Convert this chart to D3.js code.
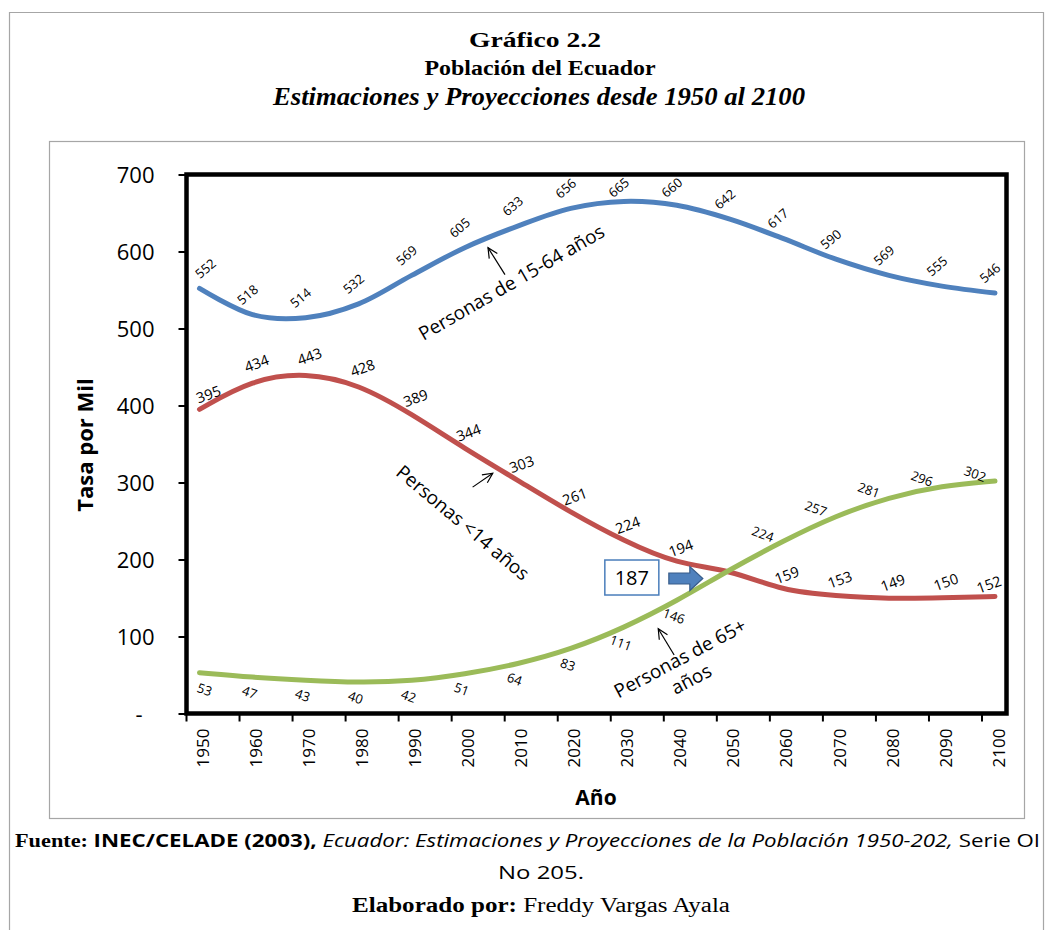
<!DOCTYPE html>
<html>
<head>
<meta charset="utf-8">
<script src="https://cdn.jsdelivr.net/npm/d3@7"></script>
<style>
  body { margin: 0; background: #fff; }
  svg { display: block; }
</style>
</head>
<body>
<div id="chart"></div>
<script>
// Data (tasa por mil)
const years = [1950, 1960, 1970, 1980, 1990, 2000, 2010, 2020, 2030, 2040, 2050, 2060, 2070, 2080, 2090, 2100];
const personas1564 = [552, 518, 514, 532, 569, 605, 633, 656, 665, 660, 642, 617, 590, 569, 555, 546];
const personasMenos14 = [395, 434, 443, 428, 389, 344, 303, 261, 224, 194, 187, 159, 153, 149, 150, 152];
const personas65 = [53, 47, 43, 40, 42, 51, 64, 83, 111, 146, 187, 224, 257, 281, 296, 302];
const yTicks = [0, 100, 200, 300, 400, 500, 600, 700];
const yTickLabels = ["-", "100", "200", "300", "400", "500", "600", "700"];
const crossYear = 2050;

const width = 1053;
const height = 930;
const sans = "'Open Sans', 'Noto Sans', sans-serif";
const serif = "'Liberation Serif', 'DejaVu Serif', serif";

const svg = d3.select("#chart")
  .append("svg")
  .attr("width", width)
  .attr("height", height);

// page frame and chart frame
svg.append("path")
  .attr("d", "M9.5,935 L9.5,12.5 L1043.5,12.5 L1043.5,935")
  .attr("fill", "none")
  .attr("stroke", "#a6a6a6")
  .attr("stroke-width", 1.2);

svg.append("rect")
  .attr("x", 49.5).attr("y", 141.5)
  .attr("width", 975).attr("height", 677)
  .attr("fill", "none")
  .attr("stroke", "#a6a6a6")
  .attr("stroke-width", 1.2);

// titles (the original is a bit stretched sideways, hence textLength)
svg.append("text")
  .attr("x", 535).attr("y", 47)
  .attr("text-anchor", "middle")
  .attr("textLength", 132).attr("lengthAdjust", "spacingAndGlyphs")
  .style("font-family", serif).style("font-weight", "bold").style("font-size", "22px")
  .text("Gráfico 2.2");

svg.append("text")
  .attr("x", 540).attr("y", 75)
  .attr("text-anchor", "middle")
  .attr("textLength", 231).attr("lengthAdjust", "spacingAndGlyphs")
  .style("font-family", serif).style("font-weight", "bold").style("font-size", "20px")
  .text("Población del Ecuador");

svg.append("text")
  .attr("x", 539).attr("y", 105)
  .attr("text-anchor", "middle")
  .attr("textLength", 532).attr("lengthAdjust", "spacingAndGlyphs")
  .style("font-family", serif).style("font-weight", "bold").style("font-style", "italic").style("font-size", "25px")
  .text("Estimaciones y Proyecciones desde 1950 al 2100");

// scales
const x = d3.scaleLinear().domain([1950, 2100]).range([199.5, 995]);
const y = d3.scaleLinear().domain([0, 700]).range([713.5, 174.5]);

const plotLeft = x(1950) - 13;
const plotRight = x(2100) + 11.5;

// y axis
const yAxis = svg.append("g")
  .attr("transform", `translate(${plotLeft}, 0)`)
  .call(d3.axisLeft(y).tickValues(yTicks).tickSize(8).tickPadding(24)
    .tickFormat((d, i) => yTickLabels[i]));
yAxis.select(".domain").remove();
yAxis.selectAll(".tick line").attr("stroke", "#000").attr("stroke-width", 2);
yAxis.selectAll(".tick text")
  .style("font-family", sans).style("font-size", "22px").attr("fill", "#000")
  .attr("dy", "0.36em");
yAxis.selectAll(".tick text").filter(d => d === 0).attr("dx", -12);

// x axis
const xAxis = svg.append("g")
  .attr("transform", `translate(0, ${y(0)})`)
  .call(d3.axisBottom(x).tickValues(years).tickSize(0).tickFormat(d3.format("d")));
xAxis.select(".domain").remove();
xAxis.selectAll(".tick").append("line")
  .attr("x1", -13.5).attr("x2", -13.5)
  .attr("y1", 0).attr("y2", 8)
  .attr("stroke", "#000").attr("stroke-width", 2);
xAxis.selectAll(".tick text")
  .style("font-family", sans).style("font-size", "17px").attr("fill", "#000")
  .attr("text-anchor", "end")
  .attr("transform", "rotate(-90)")
  .attr("x", -15).attr("y", 3)
  .attr("dy", "0.36em");

// plot border
svg.append("rect")
  .attr("x", plotLeft).attr("y", y(700))
  .attr("width", plotRight - plotLeft).attr("height", y(0) - y(700))
  .attr("fill", "none")
  .attr("stroke", "#000")
  .attr("stroke-width", 4.5);

// axis titles
svg.append("text")
  .attr("transform", "translate(93, 445) rotate(-90)")
  .attr("text-anchor", "middle")
  .style("font-family", sans).style("font-weight", "bold").style("font-size", "22px")
  .text("Tasa por Mil");

svg.append("text")
  .attr("x", 596).attr("y", 805)
  .attr("text-anchor", "middle")
  .style("font-family", sans).style("font-weight", "bold").style("font-size", "21px")
  .text("Año");

// lines
const series = [
  { values: personas1564, color: "#4f81bd", curve: d3.curveCatmullRom.alpha(0) },
  { values: personasMenos14, color: "#c0504d", curve: d3.curveBasis },
  { values: personas65, color: "#9bbb59", curve: d3.curveBasis }
];

series.forEach(s => {
  const line = d3.line()
    .x((d, i) => x(years[i]))
    .y(d => y(d))
    .curve(s.curve);
  svg.append("path")
    .datum(s.values)
    .attr("d", line)
    .attr("fill", "none")
    .attr("stroke", s.color)
    .attr("stroke-width", 5)
    .attr("stroke-linecap", "round")
    .attr("stroke-linejoin", "round");
});

// data labels
function addLabels(values, opts) {
  svg.append("g")
    .selectAll("text")
    .data(values.map((v, i) => ({ v, i })).filter(d => !opts.skip || years[d.i] !== crossYear))
    .enter()
    .append("text")
    .attr("transform", d => {
      const o = opts.offset(d.i);
      const ly = Math.max(y(d.v) + o[1], y(700) + 13);
      return `translate(${x(years[d.i]) + o[0]}, ${ly}) rotate(${opts.angle})`;
    })
    .attr("text-anchor", "middle")
    .attr("dy", "0.36em")
    .style("font-family", sans)
    .style("font-size", opts.size)
    .text(d => d.v);
}

const last = years.length - 1;
addLabels(personas1564, {
  angle: -40, size: "13px",
  offset: i => (i === 0 ? [6, -20] : [-5, -20])
});
addLabels(personasMenos14, {
  angle: -20, size: "14.5px", skip: true,
  offset: i => (i === 0 ? [9, -15] : i === last ? [-6, -12] : [4, -16])
});
addLabels(personas65, {
  angle: 20, size: "13px", skip: true,
  offset: i => (i === 0 ? [5, 17] : years[i] < crossYear ? [-3, 15] : [-20, -7])
});

// annotation: series names with little arrows
function arrow(x1, y1, x2, y2) {
  const a = Math.atan2(y2 - y1, x2 - x1);
  const len = 11, spread = 0.45;
  const g = svg.append("g").attr("stroke", "#000").attr("stroke-width", 1.2).attr("fill", "none");
  g.append("line").attr("x1", x1).attr("y1", y1).attr("x2", x2).attr("y2", y2);
  g.append("path").attr("d",
    `M${x2 - len * Math.cos(a - spread)},${y2 - len * Math.sin(a - spread)} L${x2},${y2} L${x2 - len * Math.cos(a + spread)},${y2 - len * Math.sin(a + spread)}`);
}

function note(cx, cy, angle, lines) {
  const t = svg.append("text")
    .attr("transform", `translate(${cx}, ${cy}) rotate(${angle})`)
    .attr("text-anchor", "middle")
    .style("font-family", sans)
    .style("font-size", "19px");
  lines.forEach((l, i) => {
    t.append("tspan").attr("x", 0).attr("dy", i === 0 ? "0.36em" : "1.25em").text(l);
  });
}

arrow(x(2007.6), y(570), x(2004.4), y(605));
note(x(2008.8), y(560), -30, ["Personas de 15-64 años"]);

arrow(x(2001.5), y(294), x(2005.3), y(312));
note(x(1999.7), y(248), 40, ["Personas <14 años"]);

arrow(x(2039.5), y(76), x(2036.5), y(110));
note(x(2040.6), y(72), -28, ["Personas de 65+", "años"]);

// highlighted crossing value
const cx = x(crossYear), cy = y(personasMenos14[10]);
svg.append("rect")
  .attr("x", cx - 125).attr("y", cy - 9.5)
  .attr("width", 54).attr("height", 35)
  .attr("fill", "#fff")
  .attr("stroke", "#4a7ebb")
  .attr("stroke-width", 1.5);
svg.append("text")
  .attr("x", cx - 98).attr("y", cy + 8)
  .attr("text-anchor", "middle")
  .attr("dy", "0.36em")
  .style("font-family", sans).style("font-size", "20px")
  .text(personasMenos14[10]);
svg.append("path")
  .attr("d", `M${cx - 61},${cy + 3.5} L${cx - 40},${cy + 3.5} L${cx - 40},${cy - 3} L${cx - 27},${cy + 9} L${cx - 40},${cy + 21} L${cx - 40},${cy + 14.5} L${cx - 61},${cy + 14.5} Z`)
  .attr("fill", "#4f81bd")
  .attr("stroke", "#385d8a")
  .attr("stroke-width", 1.2);

// footer
const f1 = svg.append("text")
  .attr("x", 15).attr("y", 847)
  .attr("textLength", 1025).attr("lengthAdjust", "spacingAndGlyphs")
  .style("font-size", "18px");
f1.append("tspan").style("font-family", serif).style("font-weight", "bold").text("Fuente: ");
f1.append("tspan").style("font-family", sans).style("font-weight", "bold").text("INEC/CELADE (2003), ");
f1.append("tspan").style("font-family", sans).style("font-style", "italic")
  .text("Ecuador: Estimaciones y Proyecciones de la Población 1950-202,");
f1.append("tspan").style("font-family", sans).text(" Serie OI");

svg.append("text")
  .attr("x", 541).attr("y", 879)
  .attr("text-anchor", "middle")
  .attr("textLength", 86).attr("lengthAdjust", "spacingAndGlyphs")
  .style("font-family", sans).style("font-size", "18px")
  .text("No 205.");

const f3 = svg.append("text")
  .attr("x", 541).attr("y", 912)
  .attr("text-anchor", "middle")
  .attr("textLength", 378).attr("lengthAdjust", "spacingAndGlyphs")
  .style("font-family", serif).style("font-size", "20px");
f3.append("tspan").style("font-weight", "bold").text("Elaborado por: ");
f3.append("tspan").text("Freddy Vargas Ayala");
</script>
</body>
</html>
